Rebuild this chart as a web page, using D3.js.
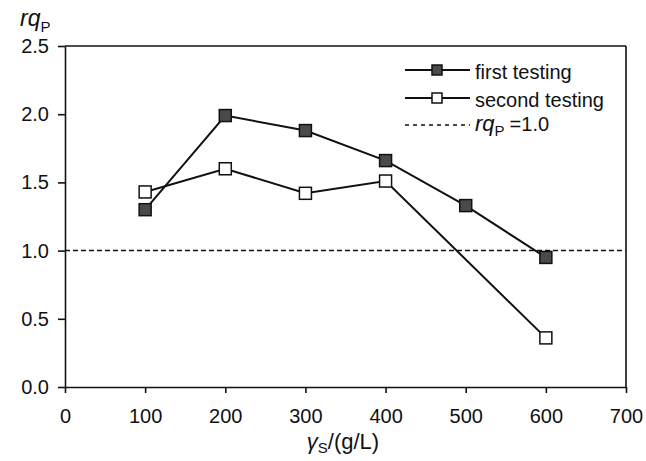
<!DOCTYPE html>
<html><head><meta charset="utf-8">
<script src="https://cdn.jsdelivr.net/npm/d3@7"></script>
<style>body{margin:0;background:#fff}svg{display:block}text{font-family:"Liberation Sans",Arial,sans-serif;fill:#111}</style>
</head><body>
<svg id="c" width="646" height="461"></svg>
<script>
const concentrations = [100, 200, 300, 400, 500, 600];
const firstTesting = [1.30, 1.99, 1.88, 1.66, 1.33, 0.95];
const secondX = [100, 200, 300, 400, 600];
const secondTesting = [1.43, 1.60, 1.42, 1.51, 0.36];
const xTicks = [0, 100, 200, 300, 400, 500, 600, 700];
const yTicks = [0, 0.5, 1.0, 1.5, 2.0, 2.5];
const refValue = 1.0;

const svg = d3.select("#c");
const m = {l: 65, r: 626, t: 46, b: 387};
const x = d3.scaleLinear().domain([0, 700]).range([m.l, m.r]);
const y = d3.scaleLinear().domain([0, 2.5]).range([m.b, m.t]);

// frame
svg.append("line").attr("x1", m.l).attr("x2", m.r).attr("y1", m.t).attr("y2", m.t).attr("stroke", "#111").attr("stroke-width", 1.6);
svg.append("line").attr("x1", m.r).attr("x2", m.r).attr("y1", m.t).attr("y2", m.b).attr("stroke", "#111").attr("stroke-width", 1.6);

const xa = svg.append("g").attr("transform", `translate(0,${m.b})`)
  .call(d3.axisBottom(x).tickValues(xTicks).tickFormat(d3.format("d")).tickSize(6).tickSizeOuter(0).tickPadding(16));
const ya = svg.append("g").attr("transform", `translate(${m.l},0)`)
  .call(d3.axisLeft(y).tickValues(yTicks).tickFormat(d3.format(".1f")).tickSize(7).tickSizeOuter(0).tickPadding(9));
[xa, ya].forEach(a => {
  a.select(".domain").attr("stroke", "#111").attr("stroke-width", 1.6);
  a.selectAll(".tick line").attr("stroke", "#111").attr("stroke-width", 1.6);
  a.selectAll(".tick text").attr("font-size", 20).attr("fill", "#111").style("font-family", '"Liberation Sans",Arial,sans-serif');
});

// reference line
svg.append("line").attr("x1", m.l).attr("x2", m.r).attr("y1", y(refValue)).attr("y2", y(refValue))
  .attr("stroke", "#111").attr("stroke-width", 1.5).attr("stroke-dasharray", "5,3");

const line = d3.line().x(d => x(d[0])).y(d => y(d[1]));
const s1 = concentrations.map((c, i) => [c, firstTesting[i]]);
const s2 = secondX.map((c, i) => [c, secondTesting[i]]);
const ms = 12;
function drawSeries(data, fill) {
  svg.append("path").datum(data).attr("d", line).attr("fill", "none").attr("stroke", "#111").attr("stroke-width", 2);
  svg.append("g").selectAll("rect").data(data).join("rect")
    .attr("x", d => x(d[0]) - ms/2).attr("y", d => y(d[1]) - ms/2)
    .attr("width", ms).attr("height", ms).attr("fill", fill).attr("stroke", "#111").attr("stroke-width", 1.5);
}
drawSeries(s1, "#4a4a4a");
drawSeries(s2, "#fff");

// legend
const lg = svg.append("g");
const lx1 = 405, lx2 = 470, tx = 475;
const rows = [
  {y: 70, fill: "#4a4a4a", label: "first testing"},
  {y: 98, fill: "#fff", label: "second testing"}
];
rows.forEach(r => {
  lg.append("line").attr("x1", lx1).attr("x2", lx2).attr("y1", r.y).attr("y2", r.y).attr("stroke", "#111").attr("stroke-width", 1.8);
  lg.append("rect").attr("x", 437 - 5).attr("y", r.y - 5).attr("width", 10).attr("height", 10)
    .attr("fill", r.fill).attr("stroke", "#111").attr("stroke-width", 1.5);
  lg.append("text").attr("x", tx).attr("y", r.y + 9).attr("font-size", 20).text(r.label);
});
lg.append("line").attr("x1", lx1).attr("x2", lx2).attr("y1", 125).attr("y2", 125).attr("stroke", "#111").attr("stroke-width", 1.5).attr("stroke-dasharray", "4,4");
const t3 = lg.append("text").attr("x", tx).attr("y", 131).attr("font-size", 22);
t3.append("tspan").attr("font-style", "italic").text("rq");
t3.append("tspan").attr("font-size", 15).attr("dy", 5).text("P");
t3.append("tspan").attr("dy", -5).attr("dx", 5).attr("font-size", 20).text("=1.0");

// axis titles
const yt = svg.append("text").attr("x", 20).attr("y", 26).attr("font-size", 23);
yt.append("tspan").attr("font-style", "italic").text("rq");
yt.append("tspan").attr("font-size", 15).attr("dy", 6).text("P");

const xt = svg.append("text").attr("x", 343).attr("y", 449).attr("text-anchor", "middle").attr("font-size", 22);
xt.append("tspan").attr("font-style", "italic").text("γ");
xt.append("tspan").attr("font-size", 15).attr("dy", 4).text("S");
xt.append("tspan").attr("dy", -4).text("/(g/L)");
</script>
</body></html>
